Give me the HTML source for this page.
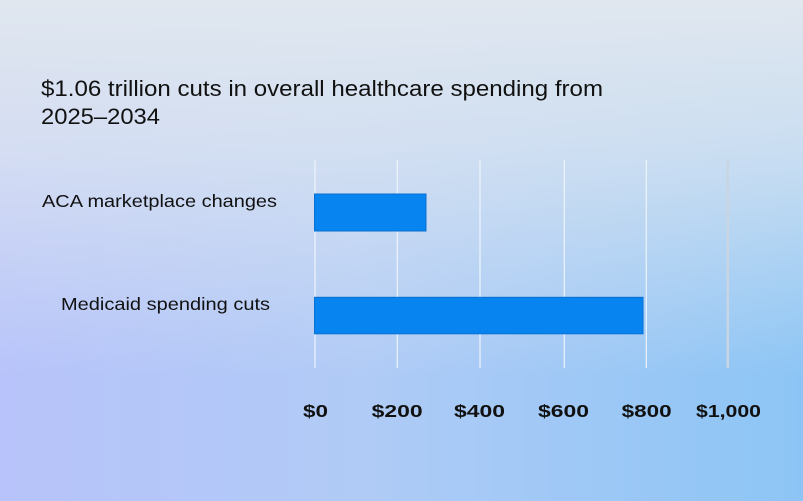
<!DOCTYPE html>
<html>
<head>
<meta charset="utf-8">
<style>
html,body{margin:0;padding:0;}
body{width:803px;height:501px;overflow:hidden;position:relative;
background:
 linear-gradient(to bottom, rgba(224,231,239,1) 0%, rgba(222,230,240,0.75) 30%, rgba(220,230,242,0) 75%),
 linear-gradient(to right, #b7c3fa 0%, #b0cbf6 45%, #8cc5f5 100%);
}
svg{position:absolute;left:0;top:0;}
text{font-family:"Liberation Sans",sans-serif;fill:#111;}
</style>
</head>
<body>
<svg width="803" height="501" viewBox="0 0 803 501">
  <text x="41" y="96" font-size="22" textLength="562" lengthAdjust="spacingAndGlyphs">$1.06 trillion cuts in overall healthcare spending from</text>
  <text x="41" y="124" font-size="22" textLength="119" lengthAdjust="spacingAndGlyphs">2025–2034</text>

  <g stroke="#eef4fb" stroke-width="1.2">
    <line x1="315" y1="160" x2="315" y2="368"/>
    <line x1="397.3" y1="160" x2="397.3" y2="368"/>
    <line x1="480" y1="160" x2="480" y2="368"/>
    <line x1="564.3" y1="160" x2="564.3" y2="368"/>
    <line x1="646.3" y1="160" x2="646.3" y2="368"/>
  </g>
  <line x1="727.8" y1="160" x2="727.8" y2="368" stroke="#c9d5e2" stroke-width="2.5"/>

  <rect x="314.5" y="194" width="111.5" height="37" fill="#0884f0" stroke="#0a70cf" stroke-width="1"/>
  <rect x="314.5" y="297.3" width="328.5" height="36.5" fill="#0884f0" stroke="#0a70cf" stroke-width="1"/>

  <text x="42" y="207" font-size="17.5" textLength="235" lengthAdjust="spacingAndGlyphs">ACA marketplace changes</text>
  <text x="61" y="310" font-size="17.5" textLength="209" lengthAdjust="spacingAndGlyphs">Medicaid spending cuts</text>

  <g font-size="17.5" font-weight="bold" text-anchor="middle">
    <text x="315.5" y="417" textLength="25" lengthAdjust="spacingAndGlyphs">$0</text>
    <text x="397.2" y="417" textLength="51" lengthAdjust="spacingAndGlyphs">$200</text>
    <text x="479.5" y="417" textLength="51" lengthAdjust="spacingAndGlyphs">$400</text>
    <text x="563.5" y="417" textLength="51" lengthAdjust="spacingAndGlyphs">$600</text>
    <text x="646.7" y="417" textLength="50" lengthAdjust="spacingAndGlyphs">$800</text>
    <text x="728.5" y="417" textLength="65" lengthAdjust="spacingAndGlyphs">$1,000</text>
  </g>
</svg>
</body>
</html>
